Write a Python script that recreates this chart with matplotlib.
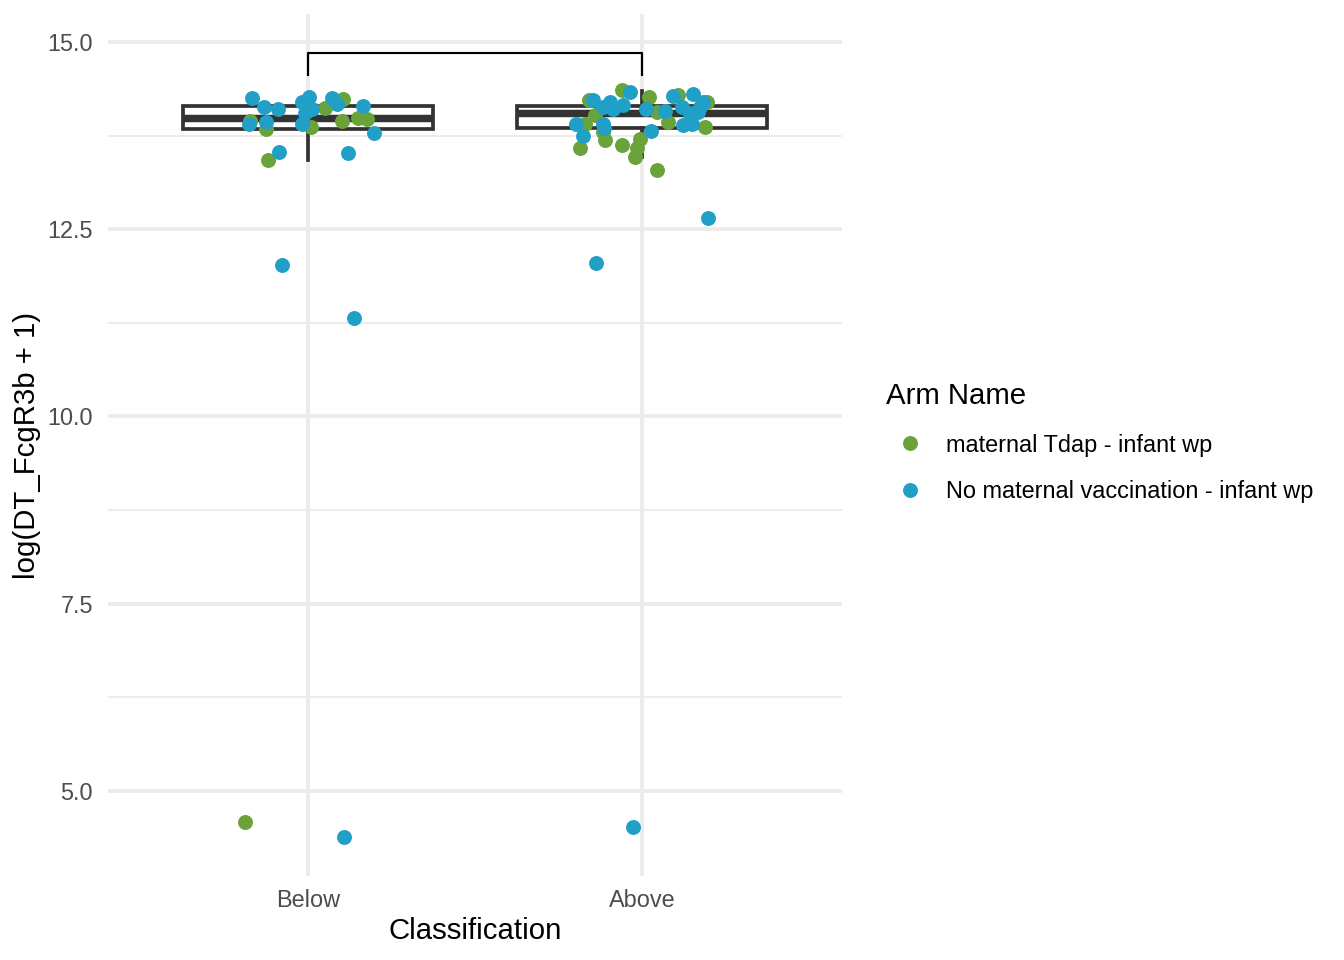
import matplotlib
matplotlib.use("Agg")
import matplotlib.pyplot as plt
from matplotlib.lines import Line2D
import numpy as np

plt.rcParams['font.family'] = ['Liberation Sans', 'DejaVu Sans']

# categories and arms
categories = ["Below", "Above"]
arms = ["maternal Tdap - infant wp", "No maternal vaccination - infant wp"]
arm_colors = ["#6aa33a", "#21a0c7"]

# jittered points: offset from category centre, value
below_tdap_dx = [-0.174, -0.126, -0.121, 0.009, 0.051, 0.106, 0.103, 0.151, 0.178, -0.188]
below_tdap_y = [13.95, 13.84, 13.42, 13.86, 14.12, 14.24, 13.95, 13.99, 13.97, 4.58]
below_none_dx = [-0.166, -0.131, -0.089, -0.176, -0.127, -0.086, 0.004, -0.019, 0.011,
                 -0.009, -0.019, 0.071, 0.086, 0.166, 0.199, 0.121, -0.077, 0.139, 0.109]
below_none_y = [14.25, 14.13, 14.10, 13.91, 13.93, 13.53, 14.27, 14.20, 14.11,
                14.05, 13.91, 14.25, 14.17, 14.15, 13.78, 13.52, 12.02, 11.31, 4.39]

above_tdap_dx = [-0.061, -0.158, -0.141, -0.171, -0.186, -0.111, -0.061, -0.006, -0.016,
                 -0.021, 0.044, 0.022, -0.116, 0.044, 0.079, 0.109, 0.189, 0.195]
above_tdap_y = [14.36, 14.22, 14.03, 13.91, 13.58, 13.69, 13.62, 13.71, 13.58,
                13.47, 13.29, 14.27, 13.80, 14.07, 13.93, 14.29, 13.87, 14.20]
above_none_dx = [-0.036, -0.146, -0.096, -0.056, -0.086, -0.116, -0.198, -0.178, -0.116,
                 -0.113, 0.012, 0.026, 0.069, 0.092, 0.119, 0.154, 0.183, 0.144,
                 0.124, 0.149, 0.168, 0.174, 0.197, -0.138, -0.026]
above_none_y = [14.33, 14.22, 14.20, 14.16, 14.10, 14.13, 13.91, 13.74, 13.91,
                13.85, 14.11, 13.81, 14.08, 14.28, 14.13, 14.31, 14.20, 14.05,
                13.89, 13.91, 14.07, 14.13, 12.65, 12.05, 4.52]

# box statistics
box_q1 = [13.84, 13.85]
box_med = [13.99, 14.05]
box_q3 = [14.15, 14.15]
box_lo = [13.43, 13.47]
box_hi = [14.27, 14.34]

# comparison bracket
bracket_top = 14.85
bracket_tip = 14.56

fig = plt.figure(figsize=(7, 5), dpi=192)
ax = fig.add_axes([0.080, 0.0879, 0.5468, 0.8972])

stats = []
for i in range(2):
    stats.append({"med": box_med[i], "q1": box_q1[i], "q3": box_q3[i],
                  "whislo": box_lo[i], "whishi": box_hi[i], "fliers": []})
ax.bxp(stats, positions=[1, 2], widths=0.75, showfliers=False, showcaps=False,
       patch_artist=True,
       boxprops=dict(facecolor="white", edgecolor="#333333", linewidth=1.4),
       whiskerprops=dict(color="#333333", linewidth=1.4),
       medianprops=dict(color="#333333", linewidth=2.8, solid_capstyle="butt"),
       zorder=2)

ms = 5.6
groups = [
    (1, below_tdap_dx, below_tdap_y, 0),
    (2, above_tdap_dx, above_tdap_y, 0),
    (1, below_none_dx, below_none_y, 1),
    (2, above_none_dx, above_none_y, 1),
]
for pos, dx, yv, arm in groups:
    ax.plot(pos + np.array(dx), yv, "o", ms=ms, color=arm_colors[arm],
            markeredgewidth=0, zorder=3)

ax.plot([1, 1, 2, 2], [bracket_tip, bracket_top, bracket_top, bracket_tip],
        color="black", linewidth=0.8, zorder=4)

ax.set_xlim(0.4, 2.6)
ax.set_ylim(3.87, 15.37)
ax.set_xticks([1, 2])
ax.set_xticklabels(categories)
ax.set_yticks([5, 7.5, 10, 12.5, 15])
ax.set_yticklabels(["5.0", "7.5", "10.0", "12.5", "15.0"])
ax.set_yticks([6.25, 8.75, 11.25, 13.75], minor=True)
ax.grid(True, which="major", color="#ebebeb", linewidth=1.4, zorder=0)
ax.grid(True, which="minor", axis="y", color="#ebebeb", linewidth=0.7, zorder=0)
ax.set_axisbelow(True)
for s in ax.spines.values():
    s.set_visible(False)
ax.tick_params(which="both", length=0)
ax.tick_params(axis="x", pad=5, labelsize=8.8, labelcolor="#4d4d4d")
ax.tick_params(axis="y", pad=5.5, labelsize=8.8, labelcolor="#4d4d4d")
ax.set_xlabel("Classification", fontsize=11, labelpad=2)
ax.set_ylabel("log(DT_FcgR3b + 1)", fontsize=11, labelpad=2.4)

handles = [Line2D([], [], marker="o", linestyle="", ms=ms, color=c, markeredgewidth=0)
           for c in arm_colors]
leg = fig.legend(handles, arms, title="Arm Name", loc="center left",
                 bbox_to_anchor=(0.6525, 0.539), frameon=False, fontsize=8.8,
                 title_fontsize=11, handlelength=2.0, handletextpad=0.55,
                 labelspacing=1.0, borderaxespad=0)
leg._legend_box.align = "left"

fig.savefig("out.png", dpi=192)
